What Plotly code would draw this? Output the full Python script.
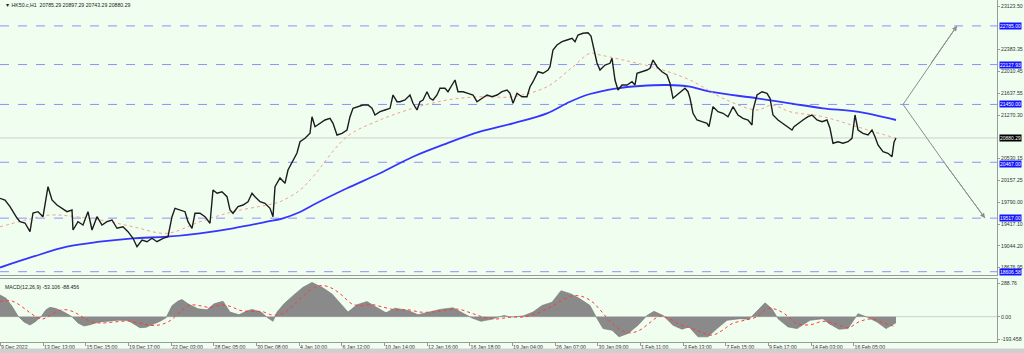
import plotly.graph_objects as go

# ---------------- data ----------------
bar_index = [0, 5, 10, 13, 17, 20, 25, 30, 33, 38, 43, 48, 52, 57, 62, 67, 72, 73, 78, 83,
             88, 92, 97, 102, 107, 112, 117, 123, 128, 133, 137, 142, 147, 152, 157, 163, 168, 172, 175, 180,
             185, 188, 192, 195, 200, 205, 210, 213, 217, 222, 227, 230, 233, 238, 243, 248, 252, 255, 260, 265,
             270, 273, 275, 280, 285, 288, 293, 297, 300, 305, 310, 312, 315, 320, 325, 330, 333, 337, 342, 347,
             350, 353, 358, 363, 368, 372, 375, 380, 385, 390, 393, 397, 400, 405, 410, 413, 417, 420, 423, 427,
             430, 433, 437, 440, 445, 448, 452, 455, 458, 463, 468, 473, 477, 482, 487, 492, 497, 502, 507, 510,
             513, 517, 522, 527, 530, 533, 538, 543, 548, 550, 553, 557, 562, 567, 572, 575, 578, 583, 588, 591,
             595, 597, 600, 605, 610, 612, 615, 618, 622, 627, 632, 635, 637, 642, 647, 650, 653, 657, 662, 667,
             670, 673, 677, 680, 685, 688, 690, 693, 697, 702, 707, 709, 713, 718, 723, 728, 733, 738, 743, 748,
             752, 753, 757, 762, 767, 770, 773, 778, 783, 788, 792, 794, 798, 803, 808, 812, 817, 822, 827, 830,
             833, 838, 843, 848, 852, 855, 858, 863, 868, 872, 875, 878, 883, 888, 892, 894, 896]
close = [19854, 19825.5, 19712, 19627, 19519.5, 19457, 19434.5, 19287, 19604.5, 19627, 19542, 20052, 19825.5, 19740.5, 19684.5, 19627, 19655.5, 19315.5, 19457, 19400.5,
         19627, 19315.5, 19542, 19400.5, 19457, 19485.5, 19344.5, 19371.5, 19287, 19174.5, 19031.5, 19145.5, 19116.5, 19174.5, 19116.5, 19174.5, 19201.5, 19542, 19684.5, 19655.5,
         19627, 19457, 19344.5, 19599.5, 19599.5, 19542, 19429.5, 19995.5, 19939.5, 19966.5, 19881.5, 19655.5, 19599.5, 19712, 19740.5, 19796.5, 19939.5, 19881.5, 19796.5, 19769.5,
         19684.5, 19542, 20052, 20199.5, 20109.5, 20335.5, 20505.5, 20624.5, 20816.5, 20874.5, 20959.5, 21241.5, 21071.5, 21129.5, 21185.5, 21214.5, 21129.5, 20930.5, 20959.5, 21015.5,
         21241.5, 21384.5, 21411.5, 21440.5, 21440.5, 21384.5, 21270.5, 21326.5, 21355.5, 21384.5, 21610.5, 21496.5, 21496.5, 21525.5, 21610.5, 21469.5, 21355.5, 21496.5, 21525.5, 21666.5,
         21554.5, 21525.5, 21610.5, 21724.5, 21724.5, 21666.5, 21780.5, 21865.5, 21666.5, 21666.5, 21639.5, 21610.5, 21496.5, 21554.5, 21610.5, 21581.5, 21610.5, 21666.5, 21695.5, 21639.5,
         21469.5, 21639.5, 21581.5, 21581.5, 21751.5, 21836.5, 22006.5, 21979.5, 22035.5, 22091.5, 22375.5, 22460.5, 22516.5, 22545.5, 22574.5, 22516.5, 22630.5, 22659.5, 22669.5, 22613.5,
         22341.5, 22154.5, 22035.5, 22120.5, 22149.5, 22234.5, 21865.5, 21695.5, 21780.5, 21780.5, 21836.5, 21780.5, 21979.5, 22006.5, 22035.5, 22064.5, 22205.5, 22091.5, 22006.5, 21950.5,
         21809.5, 21554.5, 21610.5, 21666.5, 21724.5, 21666.5, 21554.5, 21299.5, 21185.5, 21156.5, 21129.5, 21071.5, 21411.5, 21326.5, 21299.5, 21241.5, 21411.5, 21270.5, 21214.5, 21185.5,
         21100.5, 21355.5, 21610.5, 21666.5, 21639.5, 21554.5, 21270.5, 21185.5, 21129.5, 21071.5, 21015.5, 21071.5, 21129.5, 21185.5, 21241.5, 21270.5, 21185.5, 21156.5, 21185.5, 21044.5,
         20789.5, 20816.5, 20789.5, 20816.5, 20874.5, 21270.5, 21015.5, 20959.5, 20930.5, 21015.5, 20901.5, 20760.5, 20646.5, 20619.5, 20561.5, 20809.5, 20880.29]

ma_slow_idx = [0, 33, 67, 100, 133, 167, 200, 233, 267, 283, 300, 313, 347, 380, 413, 447, 480, 513, 547, 570,
               590, 617, 640, 667, 690, 710, 757, 790, 823, 857, 896]
ma_slow = [18677.5, 18861.5, 19031.5, 19116.5, 19174.5, 19201.5, 19259.5, 19344.5, 19457, 19514.5, 19621.5, 19740.5, 20024.5, 20279.5, 20561.5, 20789.5, 20986.5, 21129.5, 21299.5, 21496.5,
           21627.5, 21724.5, 21763.5, 21780.5, 21751.5, 21666.5, 21554.5, 21469.5, 21384.5, 21326.5, 21185.5]

ma_fast_idx = [0, 33, 50, 100, 133, 167, 200, 233, 267, 280, 300, 313, 347, 380, 413, 447, 480, 513, 547, 573,
               590, 600, 623, 657, 690, 723, 757, 772, 790, 823, 857, 896]
ma_fast = [19371.5, 19514.5, 19570.5, 19485.5, 19371.5, 19259.5, 19457, 19627, 19740.5, 19796.5, 19995.5, 20222.5, 20901.5, 21185.5, 21384.5, 21525.5, 21581.5, 21581.5, 21751.5, 22091.5,
           22319.5, 22290.5, 22205.5, 22064.5, 21865.5, 21554.5, 21355.5, 21440.5, 21326.5, 21241.5, 21071.5, 20874.5]

macd_idx = [0, 6, 12, 18, 24, 30, 35, 41, 46, 50, 56, 64, 72, 78, 84, 90, 98, 108, 118, 128,
            134, 140, 146, 153, 160, 166, 172, 178, 182, 188, 198, 207, 214, 223, 230, 239, 247, 252, 261, 268,
            273, 277, 284, 293, 303, 312, 322, 332, 341, 348, 357, 367, 376, 386, 395, 408, 418, 427, 440, 453,
            462, 472, 481, 491, 504, 510, 523, 533, 542, 552, 561, 571, 580, 590, 596, 603, 612, 619, 628, 638,
            647, 654, 663, 673, 682, 689, 698, 708, 717, 727, 740, 749, 756, 765, 772, 778, 788, 797, 810, 823,
            829, 839, 848, 858, 867, 877, 886, 896]
macd_hist = [187, 160, 90, 5, -45, -72, -45, 0, 60, 81, 70, 40, 0, -55, -80, -70, -48, -38, -30, -32,
             -60, -95, -92, -68, -40, -10, 95, 135, 148, 111, 68, 60, 111, 134, 40, 17, 50, 63, 40, -11,
             -40, 40, 111, 182, 254, 296, 254, 197, 111, 40, 103, 131, 83, 34, 74, 54, 17, 34, 63, 77,
             34, -11, -40, -23, 11, -3, 6, 40, 97, 125, 225, 197, 154, 97, 0, -103, -117, -174, -145, -74,
             11, 46, 11, -74, -108, -88, -174, -174, -103, -31, -17, -23, 40, 120, 68, -17, -88, -103, -31, -17,
             -60, -108, -103, 26, -3, -46, -103, -53.106]

signal_idx = [0, 10, 18, 26, 34, 42, 50, 58, 66, 74, 82, 90, 100, 115, 128, 140, 150, 160, 170, 180,
              190, 200, 210, 220, 230, 240, 252, 262, 272, 282, 292, 302, 312, 322, 332, 342, 352, 362, 372, 382,
              395, 408, 420, 432, 445, 458, 470, 482, 495, 510, 525, 540, 552, 562, 572, 582, 592, 600, 610, 620,
              630, 640, 650, 660, 670, 680, 690, 700, 712, 722, 732, 745, 757, 767, 777, 787, 797, 810, 823, 835,
              848, 860, 872, 884, 896]
signal_vals = [130, 140, 110, 60, 10, -20, 10, 50, 60, 40, 0, -40, -55, -45, -38, -55, -75, -70, -35, 40,
               100, 95, 80, 100, 90, 55, 45, 45, 15, 25, 90, 170, 240, 270, 245, 185, 110, 95, 105, 85,
               60, 60, 40, 40, 55, 65, 35, 0, -20, -5, 0, 40, 90, 140, 180, 175, 130, 60, -40, -110,
               -140, -115, -50, 5, -20, -70, -95, -130, -160, -120, -60, -30, 0, 70, 60, 10, -60, -70, -40, -60,
               -95, -40, -20, -55, -88.456]

price_ticks = [23123.50, 22383.35, 22010.45, 21637.55, 21270.30, 20530.15, 20157.25,
               19790.00, 19417.10, 19044.20, 18676.95]
macd_ticks = [288.76, 0.0, -193.458]
macd_tick_text = ["288.76", "0.00", "-193.458"]

levels = [22785.00, 22127.93, 21450.00, 20467.00, 19517.00, 18606.58]
last_price = 20880.29

date_tick_idx = [0, 43, 85.5, 128, 171, 213.5, 256, 299, 341.5, 384, 427, 469.5, 512, 555,
                 597.5, 640, 683, 725.5, 768, 811, 853.5]
date_tick_labels = ["9 Dec 2022", "13 Dec 13:00", "15 Dec 15:00", "19 Dec 17:00", "22 Dec 03:00",
                    "28 Dec 05:00", "30 Dec 08:00", "4 Jan 10:00", "6 Jan 12:00", "10 Jan 14:00",
                    "12 Jan 16:00", "16 Jan 18:00", "19 Jan 04:00", "26 Jan 07:00", "30 Jan 09:00",
                    "1 Feb 11:00", "3 Feb 13:00", "7 Feb 15:00", "9 Feb 17:00", "14 Feb 03:00",
                    "16 Feb 05:00"]

proj_up_idx = [903, 930, 957]
proj_up_price = [21450.00, 22127.93, 22785.00]
proj_down_idx = [903, 944, 985]
proj_down_price = [21450.00, 20467.00, 19517.00]

title_text = "▼ HK50.c,H1  20785.29 20897.29 20743.29 20880.29"
macd_label = "MACD(12,26,9) -53.106 -88.456"

# ---------------- figure ----------------
BG = "#F0FEF0"
AXC = "#9a9a9a"
FONT = "Liberation Sans"
W, H = 1024, 353
x_end = 997 / W
FS = 5.2
BOX_FS = 5.0

fig = go.Figure()

fig.add_trace(go.Scatter(x=ma_slow_idx, y=ma_slow, mode="lines", line=dict(color="#3535ff", width=1.8, shape="spline"),
                         xaxis="x", yaxis="y", hoverinfo="skip"))
fig.add_trace(go.Scatter(x=ma_fast_idx, y=ma_fast, mode="lines", line=dict(color="#f3a08e", width=1, dash="dot", shape="spline"),
                         xaxis="x", yaxis="y", hoverinfo="skip"))
fig.add_trace(go.Scatter(x=bar_index, y=close, mode="lines", line=dict(color="#1c1c1c", width=1.4),
                         xaxis="x", yaxis="y"))

# projection arrows
fig.add_trace(go.Scatter(x=proj_up_idx, y=proj_up_price, mode="lines", line=dict(color="#8c8c8c", width=1),
                         xaxis="x", yaxis="y", hoverinfo="skip"))
fig.add_trace(go.Scatter(x=proj_down_idx, y=proj_down_price, mode="lines", line=dict(color="#8c8c8c", width=1),
                         xaxis="x", yaxis="y", hoverinfo="skip"))

# MACD
fig.add_trace(go.Scatter(x=macd_idx, y=macd_hist, mode="lines", fill="tozeroy", fillcolor="#8a8a8a",
                         line=dict(color="#767676", width=0.6), xaxis="x2", yaxis="y2", hoverinfo="skip"))
fig.add_trace(go.Scatter(x=signal_idx, y=signal_vals, mode="lines", line=dict(color="#ff3b3b", width=1, dash="dot", shape="spline"),
                         xaxis="x2", yaxis="y2", hoverinfo="skip"))

shapes = []
for lv in levels:
    shapes.append(dict(type="line", xref="x domain", yref="y", x0=0, x1=1, y0=lv, y1=lv,
                       line=dict(color="#8f8fff", width=1, dash="dash"), layer="below"))
shapes.append(dict(type="line", xref="x domain", yref="y", x0=0, x1=1, y0=last_price, y1=last_price,
                   line=dict(color="#cfcfcf", width=1), layer="below"))
shapes.append(dict(type="line", xref="x2 domain", yref="y2", x0=0, x1=1, y0=0, y1=0,
                   line=dict(color="#b0b0b0", width=0.6), layer="below"))
# bottom strip
shapes.append(dict(type="rect", xref="paper", yref="paper", x0=0, x1=1, y0=0, y1=4.5 / H,
                   fillcolor="#cfcfcf", line=dict(width=0)))

annotations = []
for lv in levels:
    annotations.append(dict(xref="paper", yref="y", x=x_end + 1.5 / W, y=lv, xanchor="left", yanchor="middle",
                            yshift=(-2 if lv == 20467.00 else 0),
                            text=f"{lv:.2f}", showarrow=False, bgcolor="#1414ff",
                            font=dict(color="white", size=BOX_FS, family=FONT), borderpad=0))
annotations.append(dict(xref="paper", yref="y", x=x_end + 1.5 / W, y=last_price, xanchor="left", yanchor="middle",
                        text=f"{last_price:.2f}", showarrow=False, bgcolor="#000000",
                        font=dict(color="white", size=BOX_FS, family=FONT), borderpad=0))
# arrow heads
annotations.append(dict(xref="x", yref="y", axref="x", ayref="y", x=proj_up_idx[-1], y=proj_up_price[-1],
                        ax=proj_up_idx[-2], ay=proj_up_price[-2], showarrow=True, arrowhead=2, arrowsize=1,
                        arrowwidth=1, arrowcolor="#8c8c8c", text=""))
annotations.append(dict(xref="x", yref="y", axref="x", ayref="y", x=proj_down_idx[-1], y=proj_down_price[-1],
                        ax=proj_down_idx[-2], ay=proj_down_price[-2], showarrow=True, arrowhead=2, arrowsize=1,
                        arrowwidth=1, arrowcolor="#8c8c8c", text=""))
annotations.append(dict(xref="paper", yref="paper", x=3 / W, y=1 - 5 / H, xanchor="left", yanchor="middle",
                        text=title_text, showarrow=False, font=dict(size=FS, color="#222", family=FONT)))
annotations.append(dict(xref="paper", yref="paper", x=3 / W, y=1 - 287 / H, xanchor="left", yanchor="middle",
                        text=macd_label, showarrow=False, font=dict(size=FS, color="#222", family=FONT)))

main_dom = [1 - 275 / H, 1]
macd_dom = [1 - 342 / H, 1 - 279 / H]

fig.update_layout(
    width=W, height=H, margin=dict(l=0, r=0, t=0, b=0),
    paper_bgcolor=BG, plot_bgcolor=BG, showlegend=False,
    font=dict(family=FONT, size=FS, color="#333"),
    xaxis=dict(domain=[0, x_end], range=[0, 997], anchor="y", showticklabels=False, showgrid=False,
               zeroline=False, showline=True, mirror=True, linecolor=AXC, linewidth=1, ticks=""),
    xaxis2=dict(domain=[0, x_end], range=[0, 997], anchor="y2", matches="x", showgrid=False, zeroline=False,
                showline=True, mirror=True, linecolor=AXC, linewidth=1,
                tickmode="array", tickvals=date_tick_idx, ticktext=date_tick_labels,
                ticks="outside", ticklen=3, tickcolor=AXC, ticklabelposition="outside right",
                tickfont=dict(size=FS, color="#333", family=FONT), automargin=False),
    yaxis=dict(domain=main_dom, range=[18550.5, 23225.5], side="right", anchor="x", showgrid=False,
               zeroline=False, showline=True, mirror=True, linecolor=AXC, linewidth=1,
               tickmode="array", tickvals=price_ticks, ticktext=[f"{v:.2f}" for v in price_ticks],
               ticks="outside", ticklen=2, tickcolor=AXC, tickfont=dict(size=FS, color="#333", family=FONT),
               automargin=False),
    yaxis2=dict(domain=macd_dom, range=[-218.6, 325.7], side="right", anchor="x2", showgrid=False,
                zeroline=False, showline=True, mirror=True, linecolor=AXC, linewidth=1,
                tickmode="array", tickvals=macd_ticks, ticktext=macd_tick_text,
                ticks="outside", ticklen=2, tickcolor=AXC, tickfont=dict(size=FS, color="#333", family=FONT),
                automargin=False),
    shapes=shapes, annotations=annotations,
)

fig.write_html("out.html")
